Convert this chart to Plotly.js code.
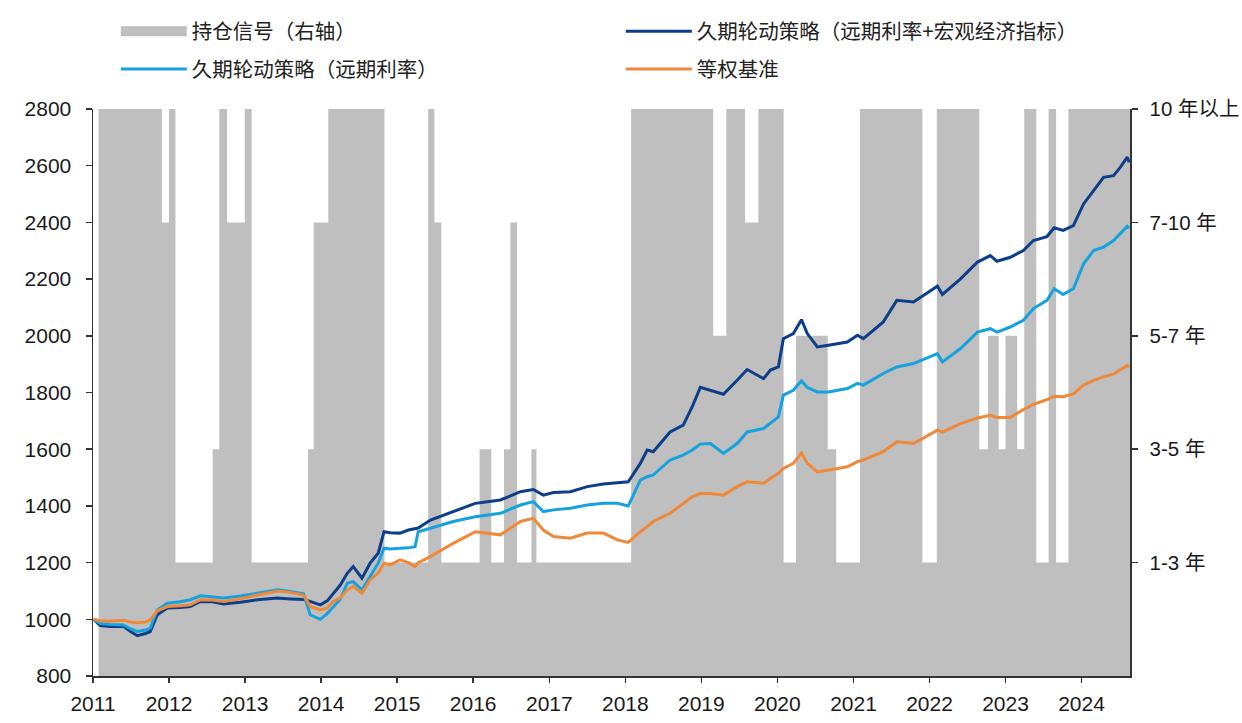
<!DOCTYPE html>
<html>
<head>
<meta charset="utf-8">
<script src="https://cdn.plot.ly/plotly-3.0.1.min.js"></script>
<style>
html,body{margin:0;padding:0;background:#fff;}
#chart{width:1242px;height:723px;}
</style>
</head>
<body>
<div id="chart"></div>
<script>
// ---- Holding signal (right axis level: 1=1-3年 ... 5=10年以上), change dates ----
const signalDates = [
  "2011-01-28","2011-11-28","2012-01-01","2012-02-01","2012-07-29","2012-08-30","2012-10-06","2012-12-30",
  "2013-02-01","2013-10-30","2013-11-26","2014-02-04","2014-11-01","2015-05-30","2015-06-29","2015-08-01",
  "2016-02-01","2016-03-28","2016-05-28","2016-06-28","2016-07-30","2016-10-07","2016-10-31","2018-01-29",
  "2019-02-27","2019-05-01","2019-07-30","2019-10-02","2020-01-31","2020-03-31","2020-08-30","2020-10-10",
  "2021-02-01","2021-11-28","2022-02-05","2022-08-28","2022-10-09","2022-11-29","2023-01-01","2023-02-26",
  "2023-04-01","2023-05-29","2023-07-27","2023-09-01","2023-10-30","2024-08-21"
];
const signalLevels = [
  5,4,5,1,2,5,4,5,
  1,2,4,5,1,5,4,1,
  2,1,2,4,1,2,1,5,
  3,5,4,5,1,3,2,1,
  5,1,5,2,3,2,3,2,
  5,1,5,1,5,5
];
const signalTickText = ["1-3 年","3-5 年","5-7 年","7-10 年","10 年以上"];

// ---- NAV series ----
const navDates = [
  "2011-01-04","2011-02-05","2011-03-25","2011-05-27","2011-07-04","2011-08-02","2011-09-10","2011-10-03",
  "2011-11-06","2011-12-24","2012-02-25","2012-04-12","2012-05-31","2012-07-27","2012-09-19","2012-12-09",
  "2013-03-01","2013-06-05","2013-08-07","2013-10-09","2013-11-09","2013-12-28","2014-01-30","2014-02-28",
  "2014-04-02","2014-05-07","2014-06-04","2014-07-16","2014-08-24","2014-10-02","2014-10-30","2014-11-28",
  "2015-01-15","2015-02-24","2015-03-28","2015-04-12","2015-06-10","2015-09-27","2016-01-11","2016-03-10",
  "2016-05-11","2016-08-15","2016-10-16","2016-12-03","2017-01-21","2017-04-12","2017-07-02","2017-09-17",
  "2017-11-24","2018-01-15","2018-03-14","2018-04-16","2018-05-15","2018-08-04","2018-10-06","2018-11-18",
  "2018-12-27","2019-02-14","2019-04-17","2019-06-22","2019-08-09","2019-10-27","2019-11-29","2020-01-06",
  "2020-01-30","2020-03-18","2020-04-26","2020-05-24","2020-07-11","2020-09-02","2020-12-02","2021-01-20",
  "2021-02-17","2021-05-24","2021-07-28","2021-10-16","2022-02-08","2022-03-04","2022-05-30","2022-08-19",
  "2022-10-20","2022-11-21","2023-01-24","2023-03-28","2023-05-15","2023-07-19","2023-08-23","2023-10-05",
  "2023-11-23","2024-01-11","2024-02-28","2024-04-16","2024-06-03","2024-07-05","2024-08-08","2024-08-17"
];
const macroStrategy = [
  1000,978,975,975,955,942,950,957,
  1016,1040,1042,1045,1063,1062,1054,1060,
  1069,1075,1072,1070,1063,1051,1065,1092,
  1120,1163,1186,1145,1198,1233,1309,1305,
  1304,1315,1321,1322,1350,1380,1409,1415,
  1421,1450,1458,1438,1447,1450,1468,1477,
  1483,1485,1550,1597,1591,1661,1685,1749,
  1818,1808,1794,1843,1881,1849,1879,1890,
  1990,2008,2057,2008,1961,1967,1978,2002,
  1990,2049,2125,2119,2175,2146,2201,2260,
  2283,2263,2277,2301,2336,2350,2381,2372,
  2389,2465,2512,2559,2565,2594,2630,2612
];
const forwardStrategy = [
  1000,985,982,980,965,957,962,969,
  1033,1057,1062,1069,1083,1080,1075,1082,
  1092,1104,1098,1090,1016,1000,1020,1045,
  1070,1128,1133,1104,1151,1198,1251,1248,
  1251,1252,1256,1309,1321,1345,1362,1368,
  1374,1403,1415,1380,1386,1392,1403,1409,
  1409,1400,1491,1503,1509,1562,1579,1597,
  1618,1620,1585,1620,1661,1673,1691,1714,
  1791,1808,1841,1818,1802,1802,1814,1832,
  1826,1867,1890,1902,1937,1908,1955,2013,
  2025,2013,2031,2055,2096,2125,2166,2146,
  2166,2254,2301,2313,2336,2360,2386,2380
];
const benchmark = [
  1000,995,993,997,990,988,990,998,
  1030,1045,1048,1051,1069,1068,1063,1072,
  1086,1100,1095,1085,1045,1033,1040,1063,
  1075,1104,1116,1092,1139,1163,1198,1192,
  1210,1200,1186,1200,1221,1268,1309,1304,
  1298,1345,1356,1315,1292,1286,1304,1304,
  1280,1271,1309,1327,1345,1374,1409,1432,
  1444,1444,1438,1468,1485,1480,1497,1515,
  1532,1550,1587,1550,1520,1526,1538,1556,
  1562,1591,1626,1620,1667,1660,1690,1710,
  1720,1712,1712,1740,1758,1775,1787,1785,
  1795,1826,1843,1855,1865,1880,1895,1890
];

const names = {
  signal: "持仓信号（右轴）",
  macro: "久期轮动策略（远期利率+宏观经济指标）",
  forward: "久期轮动策略（远期利率）",
  bench: "等权基准"
};
const colors = {gray:"#bfbfbf", macro:"#0d3e8a", forward:"#15a2df", bench:"#f0883a"};

const xRange = ["2011-01-01","2024-08-21"];
const tickFont = {family:"Liberation Sans, Arial, Noto Sans CJK SC, sans-serif", size:21, color:"#1a1a1a"};
const cjkFont = {family:"Noto Sans CJK SC, sans-serif", size:20.5, color:"#222"};

const traces = [
  {
    x: signalDates, y: signalLevels, yaxis:"y", type:"scatter", mode:"lines",
    line:{shape:"hv", width:0, color:colors.gray}, fill:"tozeroy", fillcolor:colors.gray,
    showlegend:false, hoverinfo:"skip"
  },
  {
    x:[null], y:[null], yaxis:"y", type:"scatter", mode:"lines", name:names.signal,
    line:{color:colors.gray, width:14}, legend:"legend", legendgroup:"g1", showlegend:true
  },
  {
    x: navDates, y: macroStrategy, yaxis:"y2", type:"scatter", mode:"lines", name:names.macro,
    line:{color:colors.macro, width:3}, legend:"legend2", legendgroup:"g2"
  },
  {
    x: navDates, y: forwardStrategy, yaxis:"y2", type:"scatter", mode:"lines", name:names.forward,
    line:{color:colors.forward, width:3}, legend:"legend", legendgroup:"g3"
  },
  {
    x: navDates, y: benchmark, yaxis:"y2", type:"scatter", mode:"lines", name:names.bench,
    line:{color:colors.bench, width:3}, legend:"legend2", legendgroup:"g4"
  }
];

const legendCommon = {
  orientation:"v", xanchor:"left", yanchor:"top", y:1.170,
  font:cjkFont, bgcolor:"rgba(0,0,0,0)", borderwidth:0,
  tracegroupgap:8, itemwidth:66, traceorder:"grouped"
};

const axisLine = {showgrid:false, zeroline:false, showline:true, linecolor:"#333", linewidth:1.5,
  ticks:"outside", tickcolor:"#333", tickwidth:1.5};

const layout = {
  width:1242, height:723,
  margin:{l:92.5, r:112, t:108, b:46.5, pad:0},
  paper_bgcolor:"#fff", plot_bgcolor:"#fff",
  showlegend:true,
  legend: Object.assign({}, legendCommon, {x:0.022}),
  legend2: Object.assign({}, legendCommon, {x:0.509}),
  xaxis: Object.assign({}, axisLine, {
    type:"date", range:xRange, tick0:"2011-01-01", dtick:"M12", tickformat:"%Y",
    ticklen:5, tickfont:tickFont, ticklabelstandoff:3
  }),
  yaxis: Object.assign({}, axisLine, {
    side:"right", range:[0,5],
    tickvals:[1,2,3,4,5], ticktext:signalTickText, ticklen:6,
    tickfont:{family:"Liberation Sans, Noto Sans CJK SC, sans-serif", size:20.5, color:"#1a1a1a"},
    ticklabelstandoff:8
  }),
  yaxis2: Object.assign({}, axisLine, {
    overlaying:"y", side:"left", range:[800,2800], dtick:200, tick0:800,
    ticklen:6, tickfont:tickFont, ticklabelstandoff:10
  })
};

Plotly.newPlot("chart", traces, layout, {displayModeBar:false, staticPlot:true});
</script>
</body>
</html>
